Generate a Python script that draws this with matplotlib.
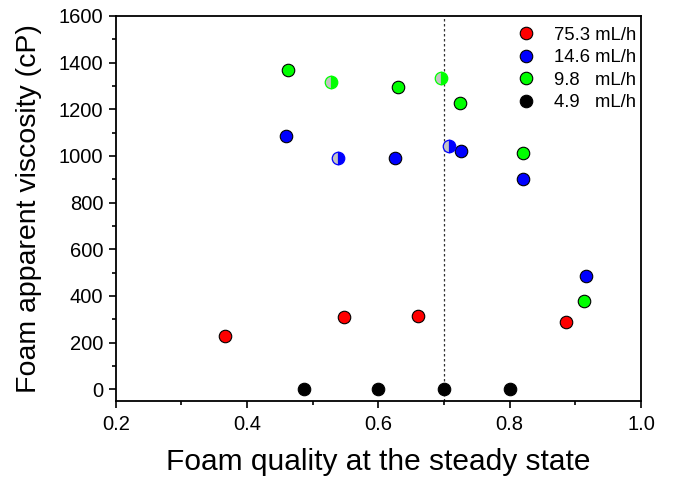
import matplotlib.pyplot as plt
from matplotlib.ticker import MultipleLocator

plt.rcParams['font.family'] = ['Liberation Sans', 'DejaVu Sans']

# foam quality / apparent viscosity per gas flow rate
red_x = [0.366, 0.547, 0.661, 0.886]
red_y = [226, 308, 316, 286]

blue_x = [0.459, 0.626, 0.726, 0.821, 0.916]
blue_y = [1086, 990, 1023, 900, 484]
blue_half_x = [0.538, 0.708]
blue_half_y = [991, 1043]

green_x = [0.463, 0.630, 0.725, 0.821, 0.913]
green_y = [1369, 1297, 1227, 1012, 378]
green_half_x = [0.528, 0.695]
green_half_y = [1318, 1334]

black_x = [0.486, 0.599, 0.700, 0.800]
black_y = [0, 0, 0, 0]

labels = ["75.3 mL/h", "14.6 mL/h", "9.8   mL/h", "4.9   mL/h"]
steady_q = 0.70

fig = plt.figure(figsize=(6.74, 4.83), dpi=100)
ax = fig.add_axes([0.1717, 0.170, 0.7793, 0.797])

ms = 9
full = dict(linestyle='none', marker='o', markersize=ms,
            markeredgecolor='black', markeredgewidth=0.8)
half = dict(linestyle='none', marker='o', markersize=ms, fillstyle='right',
            markerfacecoloralt='#c4c4c4', markeredgewidth=0.9)

ax.axvline(steady_q, color='#333333', linestyle=(0, (2, 2)), linewidth=0.9, zorder=1)

series = [
    (red_x, red_y, None, None, '#ff0000'),
    (blue_x, blue_y, blue_half_x, blue_half_y, '#0000ff'),
    (green_x, green_y, green_half_x, green_half_y, '#00ff00'),
    (black_x, black_y, None, None, '#000000'),
]
for (x, y, hx, hy, c), lab in zip(series, labels):
    ax.plot(x, y, markerfacecolor=c, label=lab, zorder=3, **full)
    if hx:
        ax.plot(hx, hy, markerfacecolor=c, markeredgecolor=c, zorder=3, **half)

ax.set_xlim(0.2, 1.0)
ax.set_ylim(-50, 1600)
ax.xaxis.set_major_locator(MultipleLocator(0.2))
ax.xaxis.set_minor_locator(MultipleLocator(0.1))
ax.yaxis.set_major_locator(MultipleLocator(200))
ax.yaxis.set_minor_locator(MultipleLocator(100))
ax.set_xticks([0.2, 0.4, 0.6, 0.8, 1.0], ['0.2', '0.4', '0.6', '0.8', '1.0'])

ax.tick_params(which='major', direction='out', length=5, width=1.2, labelsize=14.5)
ax.tick_params(which='minor', direction='out', length=3, width=1.2)
ax.tick_params(axis='x', which='major', pad=5)
ax.tick_params(axis='y', which='major', pad=4)
for s in ax.spines.values():
    s.set_linewidth(1.3)

ax.set_xlabel('Foam quality at the steady state', fontsize=21.5, labelpad=10)
ax.set_ylabel('Foam apparent viscosity (cP)', fontsize=20.5, labelpad=12)

ax.legend(loc='upper right', frameon=False, fontsize=13.3, handletextpad=1.0,
          labelspacing=0.3, borderaxespad=0.0, borderpad=0.2, handlelength=1.0,
          bbox_to_anchor=(0.998, 0.982))

fig.savefig('out.png', dpi=100)
